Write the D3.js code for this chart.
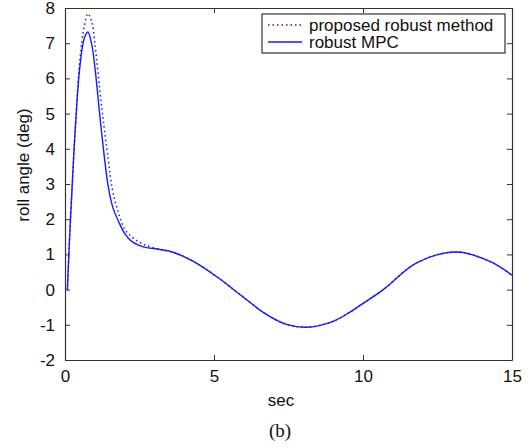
<!DOCTYPE html>
<html>
<head>
<meta charset="utf-8">
<script src="https://cdn.jsdelivr.net/npm/d3@7"></script>
<style>
  body { margin: 0; background: #fff; }
  text { font-family: "Liberation Sans", Arial, sans-serif; }
</style>
</head>
<body>
<div id="chart"></div>
<script>
// time (sec) shared by both runs
var timeSec = [0.08, 0.15, 0.25, 0.34, 0.5, 0.65, 0.77, 0.9, 1.0, 1.23, 1.45, 1.6, 1.79, 2.0, 2.24, 2.6,
  3.19, 3.63, 4.31, 5.2, 5.87, 6.77, 7.44, 8.11, 9.0, 9.56, 9.9, 10.68, 11.8, 13.14, 14.26, 15];
// roll angle (deg)
var rollProposed = [0, 1.4, 3.1, 4.5, 6.55, 7.5, 7.84, 7.6, 7.0, 5.2, 3.7, 2.8, 2.2, 1.72, 1.5, 1.3,
  1.14, 1.06, 0.8, 0.3, -0.14, -0.71, -0.99, -1.07, -0.9, -0.64, -0.45, 0, 0.76, 1.07, 0.8, 0.41];
var rollMPC = [0, 1.4, 3.1, 4.5, 6.34, 7.15, 7.32, 6.95, 6.34, 4.45, 2.93, 2.35, 1.95, 1.6, 1.37, 1.22,
  1.14, 1.06, 0.8, 0.3, -0.14, -0.71, -0.99, -1.07, -0.9, -0.64, -0.45, 0, 0.76, 1.07, 0.8, 0.41];
var xTicks = [0, 5, 10, 15];
var yTicks = [-2, -1, 0, 1, 2, 3, 4, 5, 6, 7, 8];
var legendNames = ["proposed robust method", "robust MPC"];

var width = 532, height = 447;
var plotLeft = 65, plotRight = 512, plotTop = 8, plotBottom = 360;
var blue = "#1a1aff";
var axisColor = "#333";
var fontSize = "17px";

var svg = d3.select("#chart").append("svg")
  .attr("width", width)
  .attr("height", height);

var x = d3.scaleLinear().domain([0, 15]).range([plotLeft, plotRight]);
var y = d3.scaleLinear().domain([-2, 8]).range([plotBottom, plotTop]);

// box + ticks on all sides, ticks pointing inward
function styleAxis(g) {
  g.selectAll("path").attr("stroke", axisColor).attr("stroke-width", 1.2);
  g.selectAll("line").attr("stroke", axisColor);
  g.selectAll("text").attr("font-size", fontSize).attr("fill", "#111")
    .style("font-family", '"Liberation Sans", Arial, sans-serif');
}

svg.append("g")
  .attr("transform", "translate(0," + plotBottom + ")")
  .call(d3.axisBottom(x).tickValues(xTicks).tickSize(-5).tickPadding(10).tickSizeOuter(0)
    .tickFormat(d => String(d)))
  .call(styleAxis);
svg.append("g")
  .attr("transform", "translate(0," + plotTop + ")")
  .call(d3.axisTop(x).tickValues(xTicks).tickSize(-5).tickSizeOuter(0).tickFormat(""))
  .call(styleAxis);
svg.append("g")
  .attr("transform", "translate(" + plotLeft + ",0)")
  .call(d3.axisLeft(y).tickValues(yTicks).tickSize(-5).tickPadding(10).tickSizeOuter(0)
    .tickFormat(d => String(d)))
  .call(styleAxis);
svg.append("g")
  .attr("transform", "translate(" + plotRight + ",0)")
  .call(d3.axisRight(y).tickValues(yTicks).tickSize(-5).tickSizeOuter(0).tickFormat(""))
  .call(styleAxis);

var line = d3.line()
  .x(function (d) { return x(d[0]); })
  .y(function (d) { return y(d[1]); })
  .curve(d3.curveCatmullRom.alpha(0.5));

svg.append("path")
  .datum(d3.zip(timeSec, rollMPC))
  .attr("d", line)
  .attr("fill", "none")
  .attr("stroke", blue)
  .attr("stroke-width", 1.4);

svg.append("path")
  .datum(d3.zip(timeSec, rollProposed))
  .attr("d", line)
  .attr("fill", "none")
  .attr("stroke", blue)
  .attr("stroke-width", 1.5)
  .attr("stroke-dasharray", "1.5,3");

// legend
var lg = svg.append("g");
lg.append("rect")
  .attr("x", 262).attr("y", 14)
  .attr("width", 243).attr("height", 39)
  .attr("fill", "#fff")
  .attr("stroke", axisColor)
  .attr("stroke-width", 1.2);
lg.selectAll("line.key")
  .data(legendNames)
  .enter()
  .append("line")
  .attr("class", "key")
  .attr("x1", 268).attr("x2", 302)
  .attr("y1", (d, i) => 25 + i * 17)
  .attr("y2", (d, i) => 25 + i * 17)
  .attr("stroke", blue)
  .attr("stroke-width", 1.5)
  .attr("stroke-dasharray", (d, i) => i == 0 ? "1.5,3" : null);
lg.selectAll("text.key")
  .data(legendNames)
  .enter()
  .append("text")
  .attr("class", "key")
  .attr("x", 309)
  .attr("y", (d, i) => 25 + i * 17)
  .attr("dy", "0.35em")
  .attr("font-size", fontSize)
  .attr("fill", "#111")
  .text(d => d);

// axis titles
svg.append("text")
  .attr("transform", "translate(29,165) rotate(-90)")
  .attr("text-anchor", "middle")
  .attr("font-size", fontSize)
  .attr("fill", "#111")
  .text("roll angle (deg)");
svg.append("text")
  .attr("x", 281).attr("y", 406)
  .attr("text-anchor", "middle")
  .attr("font-size", fontSize)
  .attr("fill", "#111")
  .text("sec");
svg.append("text")
  .attr("x", 280).attr("y", 437)
  .attr("text-anchor", "middle")
  .attr("font-size", "19px")
  .attr("fill", "#111")
  .style("font-family", '"Liberation Serif", "Times New Roman", serif')
  .text("(b)");
</script>
</body>
</html>
